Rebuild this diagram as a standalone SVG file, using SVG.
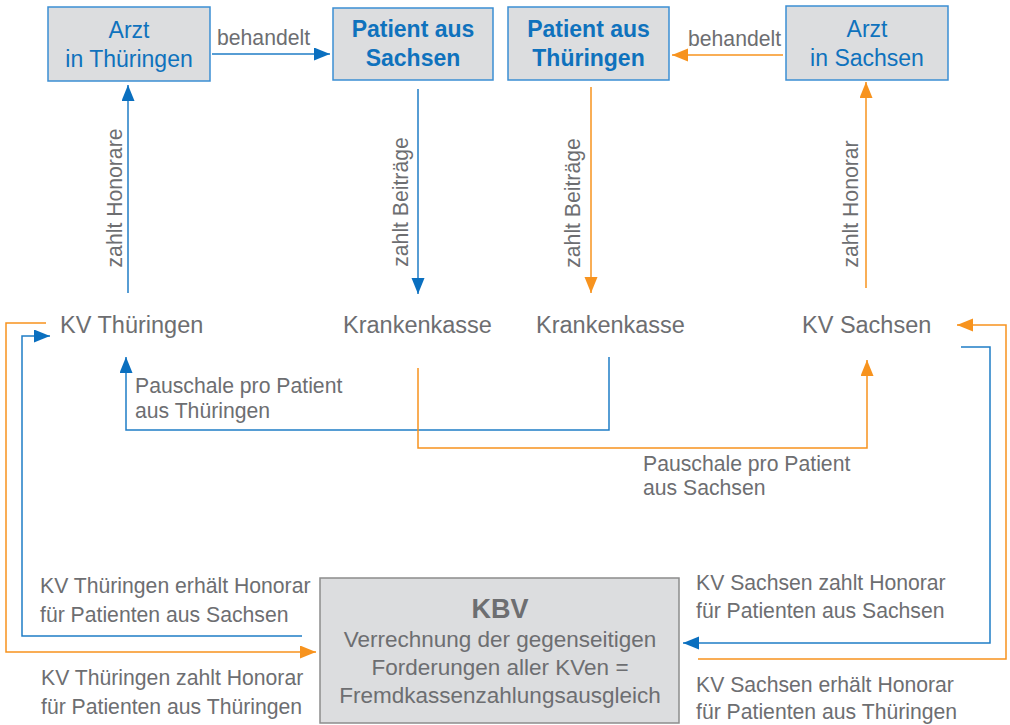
<svg xmlns="http://www.w3.org/2000/svg" width="1010" height="725" viewBox="0 0 1010 725">
<defs>
<style>
.box{fill:#dcdddf;stroke:#3b8ed3;stroke-width:1.5}
.kbv{fill:#dcdddf;stroke:#8c8c8c;stroke-width:1.5}
.bt{font-family:"Liberation Sans",Arial,sans-serif;font-size:23px;fill:#0f72bd;text-anchor:middle}
.bb{font-weight:bold}
.t{font-family:"Liberation Sans",Arial,sans-serif;font-size:21.2px;fill:#6d6e71}
.tm{font-size:23.5px}
.kt{font-family:"Liberation Sans",Arial,sans-serif;font-size:22.5px;fill:#6d6e71;text-anchor:middle}
.kh{font-size:27px;font-weight:bold}
.blue{fill:none;stroke:#1f7dc6;stroke-width:1.5}
.orange{fill:none;stroke:#f7931e;stroke-width:1.5}
</style>
<marker id="ab" markerUnits="userSpaceOnUse" markerWidth="18" markerHeight="14" refX="16" refY="6.5" orient="auto">
<path d="M0,0 L16,6.5 L0,13 Z" fill="#0a6fbf"/>
</marker>
<marker id="ao" markerUnits="userSpaceOnUse" markerWidth="18" markerHeight="14" refX="16" refY="6.5" orient="auto">
<path d="M0,0 L16,6.5 L0,13 Z" fill="#f7931e"/>
</marker>
</defs>
<rect width="1010" height="725" fill="#ffffff"/>

<g id="connectors">
<path class="blue" d="M212,54 H330" marker-end="url(#ab)"/>
<path class="orange" d="M783,55 H672" marker-end="url(#ao)"/>
<path class="blue" d="M128,293 V85" marker-end="url(#ab)"/>
<path class="blue" d="M418,89 V294" marker-end="url(#ab)"/>
<path class="orange" d="M591,87 V293" marker-end="url(#ao)"/>
<path class="orange" d="M866,288 V82" marker-end="url(#ao)"/>
<path class="blue" d="M609,357 V430 H126 V357" marker-end="url(#ab)"/>
<path class="orange" d="M418,368 V448 H867 V360" marker-end="url(#ao)"/>
<path class="blue" d="M302,636 H22 V336 H50" marker-end="url(#ab)"/>
<path class="orange" d="M46,323 H6 V652 H316" marker-end="url(#ao)"/>
<path class="blue" d="M961,347 H990 V643 H683" marker-end="url(#ab)"/>
<path class="orange" d="M698,659 H1006 V325 H957" marker-end="url(#ao)"/>
<text class="t" x="217" y="45">behandelt</text>
<text class="t" x="688" y="46">behandelt</text>
<text class="t" text-anchor="middle" transform="translate(122,198) rotate(-90)">zahlt Honorare</text>
<text class="t" text-anchor="middle" transform="translate(408,202) rotate(-90)">zahlt Beiträge</text>
<text class="t" text-anchor="middle" transform="translate(580,203) rotate(-90)">zahlt Beiträge</text>
<text class="t" text-anchor="middle" transform="translate(858,204) rotate(-90)">zahlt Honorar</text>
<text class="t"><tspan x="135" y="393">Pauschale pro Patient</tspan><tspan x="135" y="418">aus Thüringen</tspan></text>
<text class="t"><tspan x="643" y="471">Pauschale pro Patient</tspan><tspan x="643" y="495">aus Sachsen</tspan></text>
<text class="t"><tspan x="40" y="593">KV Thüringen erhält Honorar</tspan><tspan x="40" y="622">für Patienten aus Sachsen</tspan></text>
<text class="t"><tspan x="41" y="685">KV Thüringen zahlt Honorar</tspan><tspan x="41" y="714">für Patienten aus Thüringen</tspan></text>
<text class="t"><tspan x="696" y="590">KV Sachsen zahlt Honorar</tspan><tspan x="696" y="618">für Patienten aus Sachsen</tspan></text>
<text class="t"><tspan x="696" y="692">KV Sachsen erhält Honorar</tspan><tspan x="696" y="719">für Patienten aus Thüringen</tspan></text>
</g>

<g id="arzt-thueringen">
<rect class="box" x="48" y="7" width="162" height="74"/>
<text class="bt"><tspan x="129" y="38">Arzt</tspan><tspan x="129" y="67">in Thüringen</tspan></text>
</g>
<g id="patient-sachsen">
<rect class="box" x="333" y="8" width="160" height="72"/>
<text class="bt bb"><tspan x="413" y="37">Patient aus</tspan><tspan x="413" y="66">Sachsen</tspan></text>
</g>
<g id="patient-thueringen">
<rect class="box" x="508" y="7" width="161" height="73"/>
<text class="bt bb"><tspan x="588.5" y="37">Patient aus</tspan><tspan x="588.5" y="66">Thüringen</tspan></text>
</g>
<g id="arzt-sachsen">
<rect class="box" x="786" y="6" width="162" height="74"/>
<text class="bt"><tspan x="867" y="37">Arzt</tspan><tspan x="867" y="66">in Sachsen</tspan></text>
</g>

<g id="kv-thueringen"><text class="t tm" x="60" y="333">KV Thüringen</text></g>
<g id="krankenkasse-1"><text class="t tm" x="343" y="333">Krankenkasse</text></g>
<g id="krankenkasse-2"><text class="t tm" x="536" y="333">Krankenkasse</text></g>
<g id="kv-sachsen"><text class="t tm" x="802" y="333">KV Sachsen</text></g>

<g id="kbv">
<rect class="kbv" x="320" y="578" width="359" height="145"/>
<text class="kt kh" x="500" y="618">KBV</text>
<text class="kt"><tspan x="500" y="647">Verrechnung der gegenseitigen</tspan><tspan x="500" y="675">Forderungen aller KVen =</tspan><tspan x="500" y="703">Fremdkassenzahlungsausgleich</tspan></text>
</g>
</svg>
